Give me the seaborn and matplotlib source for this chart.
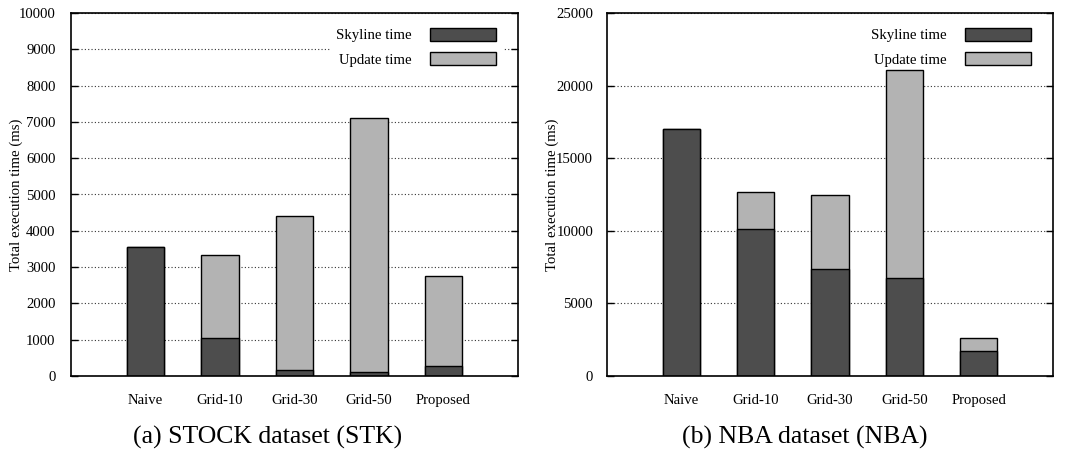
import matplotlib
matplotlib.use("Agg")
import matplotlib.pyplot as plt
from matplotlib.patches import Patch
import seaborn as sns
import pandas as pd

methods = ["Naive", "Grid-10", "Grid-30", "Grid-50", "Proposed"]

stk_skyline = [3560, 1060, 170, 110, 275]
stk_update = [0, 2280, 4230, 7005, 2475]

nba_skyline = [17000, 10100, 7350, 6780, 1700]
nba_update = [0, 2600, 5100, 14270, 900]

stk_yticks = list(range(0, 10001, 1000))
nba_yticks = list(range(0, 25001, 5000))

captions = ["(a) STOCK dataset (STK)", "(b) NBA dataset (NBA)"]

DARK = "#4d4d4d"
LIGHT = "#b3b3b3"
FS = 10.6

sns.set_theme(style="white")
plt.rcParams["font.family"] = ["Liberation Serif", "DejaVu Serif"]
plt.rcParams["font.size"] = FS
plt.rcParams["text.color"] = "black"
plt.rcParams["axes.labelcolor"] = "black"

fig = plt.figure(figsize=(10.68, 4.55), dpi=100)
ax1 = fig.add_axes([71 / 1068, 79 / 455, 447 / 1068, 363 / 455])
ax2 = fig.add_axes([607 / 1068, 79 / 455, 446 / 1068, 363 / 455])


def draw_panel(ax, skyline, update, yticks, ypad):
    df = pd.DataFrame({
        "method": methods,
        "skyline": skyline,
        "total": [s + u for s, u in zip(skyline, update)],
    })
    # total height (update stacked on skyline) first, then the skyline part over it
    sns.barplot(data=df, x="method", y="total", color=LIGHT, saturation=1,
                width=0.5, edgecolor="black", linewidth=1.0, ax=ax, zorder=3)
    sns.barplot(data=df, x="method", y="skyline", color=DARK, saturation=1,
                width=0.5, edgecolor="black", linewidth=1.0, ax=ax, zorder=4)
    ax.set_xlim(-1, 5)
    ax.set_ylim(yticks[0], yticks[-1])
    ax.set_yticks(yticks)
    ax.set_xlabel("")
    ax.set_ylabel("Total execution time (ms)", fontsize=FS, labelpad=2)
    ax.yaxis.grid(True, linestyle=(0, (1, 2)), color="#333333", linewidth=0.8, zorder=1)
    ax.xaxis.grid(False)
    ax.set_axisbelow(True)
    for sp in ax.spines.values():
        sp.set_visible(True)
        sp.set_color("black")
        sp.set_linewidth(1.2)
        sp.set_zorder(6)
    ax.tick_params(axis="y", direction="in", length=5, width=1, left=True,
                   right=True, pad=ypad, labelsize=FS, colors="black")
    ax.tick_params(axis="x", length=0, pad=13, labelsize=FS, colors="black")
    handles = [Patch(facecolor=DARK, edgecolor="black", linewidth=1.0, label="Skyline time"),
               Patch(facecolor=LIGHT, edgecolor="black", linewidth=1.0, label="Update time")]
    leg = ax.legend(handles=handles, loc="upper right", bbox_to_anchor=(0.982, 0.997),
                    markerfirst=False, handlelength=4.5, handleheight=0.95,
                    labelspacing=0.68, handletextpad=1.2, borderpad=0.45,
                    frameon=True, fancybox=False, framealpha=1, fontsize=FS)
    leg.get_frame().set_edgecolor("white")
    leg.get_frame().set_linewidth(0)
    # above the dotted grid, below the bars
    leg.set_zorder(2)


draw_panel(ax1, stk_skyline, stk_update, stk_yticks, 11)
draw_panel(ax2, nba_skyline, nba_update, nba_yticks, 10)

ax1.yaxis.set_label_coords(-0.108, 0.5)
ax2.yaxis.set_label_coords(-0.108, 0.5)

fig.text(268 / 1068, 18 / 455, captions[0], ha="center", va="center", fontsize=18.5)
fig.text(805 / 1068, 18 / 455, captions[1], ha="center", va="center", fontsize=18.5)

fig.savefig("out.png", dpi=100, facecolor="white")
